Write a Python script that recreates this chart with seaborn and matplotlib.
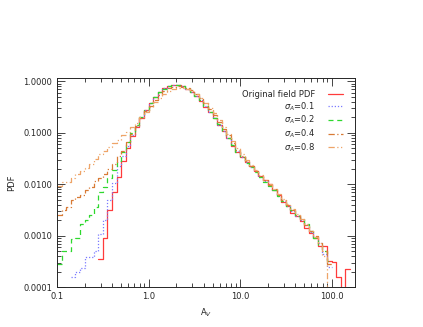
import numpy as np
import pandas as pd
import seaborn as sns
from matplotlib import pyplot as plt
from matplotlib.ticker import FixedLocator, LogLocator, NullFormatter

sns.set_style("ticks")
plt.rcParams["font.family"] = ["DejaVu Sans"]

# log10(A_V) bin left edges, 0.05 dex wide
log_edges = np.round(np.arange(-1.0, 2.30, 0.05), 2)

nan = np.nan
# log10(PDF) per bin
original = [nan, nan, nan, nan, nan, nan, nan, nan, nan, -3.45,
            -3.05, -2.50, -2.15, -1.85, -1.55, -1.30, -1.07, -0.88, -0.72, -0.55,
            -0.42, -0.30, -0.20, -0.13, -0.09, -0.065, -0.065, -0.09, -0.14, -0.21,
            -0.29, -0.38, -0.49, -0.60, -0.72, -0.85, -0.97, -1.10, -1.25, -1.37,
            -1.47, -1.56, -1.65, -1.74, -1.84, -1.92, -2.00, -2.12, -2.20, -2.35,
            -2.42, -2.55, -2.62, -2.72, -2.85, -2.95, -3.05, -3.20, -3.20, -3.50,
            -3.52, -3.80, -5.00, -3.65, nan, nan]
sigma01 = [nan, nan, nan, -3.80, -3.70, -3.62, -3.42, -3.42, -3.29, -2.97,
           -2.70, -2.30, -1.98, -1.65, -1.45, -1.25, -1.05, -0.86, -0.70, -0.55,
           -0.42, -0.30, -0.20, -0.13, -0.09, -0.065, -0.065, -0.09, -0.14, -0.20,
           -0.28, -0.37, -0.48, -0.60, -0.72, -0.84, -0.97, -1.09, -1.24, -1.36,
           -1.47, -1.57, -1.66, -1.75, -1.85, -1.93, -2.02, -2.11, -2.22, -2.32,
           -2.43, -2.52, -2.62, -2.70, -2.80, -2.92, -3.02, -3.15, -3.35, -3.60,
           nan, nan, nan, nan, nan, nan]
sigma02 = [-3.55, -3.30, -3.30, -3.07, -3.05, -2.77, -2.70, -2.60, -2.45, -2.15,
           -2.05, -1.87, -1.72, -1.55, -1.38, -1.18, -1.00, -0.85, -0.70, -0.55,
           -0.42, -0.30, -0.21, -0.14, -0.09, -0.07, -0.07, -0.09, -0.13, -0.20,
           -0.28, -0.37, -0.48, -0.59, -0.71, -0.83, -0.96, -1.10, -1.23, -1.37,
           -1.46, -1.58, -1.67, -1.76, -1.86, -1.95, -2.03, -2.12, -2.23, -2.33,
           -2.42, -2.50, -2.62, -2.68, -2.78, -2.90, -3.05, -3.18, -3.30, -3.50,
           nan, nan, nan, nan, nan, nan]
sigma04 = [-2.60, -2.50, -2.45, -2.30, -2.25, -2.20, -2.12, -2.05, -1.93, -1.88,
           -1.80, -1.70, -1.60, -1.45, -1.35, -1.18, -1.02, -0.86, -0.72, -0.58,
           -0.47, -0.36, -0.27, -0.19, -0.13, -0.10, -0.09, -0.10, -0.12, -0.17,
           -0.24, -0.32, -0.42, -0.53, -0.65, -0.78, -0.92, -1.05, -1.20, -1.34,
           -1.45, -1.55, -1.65, -1.74, -1.83, -1.92, -2.01, -2.10, -2.20, -2.30,
           -2.40, -2.50, -2.60, -2.68, -2.80, -2.90, -3.00, -3.15, -3.30, -3.55,
           nan, nan, nan, nan, nan, nan]
sigma08 = [-2.03, -1.96, -1.95, -1.88, -1.80, -1.74, -1.68, -1.60, -1.50, -1.42,
           -1.35, -1.27, -1.20, -1.13, -1.05, -0.98, -0.88, -0.80, -0.70, -0.60,
           -0.50, -0.40, -0.32, -0.25, -0.19, -0.15, -0.13, -0.13, -0.15, -0.19,
           -0.25, -0.32, -0.41, -0.51, -0.62, -0.75, -0.88, -1.02, -1.16, -1.30,
           -1.42, -1.53, -1.63, -1.72, -1.82, -1.91, -2.00, -2.10, -2.19, -2.28,
           -2.38, -2.48, -2.58, -2.68, -2.78, -2.90, -3.02, -3.15, -3.40, -5.00,
           nan, nan, nan, nan, nan, nan]

labels = ["Original field PDF", r"$\sigma_A$=0.1", r"$\sigma_A$=0.2",
          r"$\sigma_A$=0.4", r"$\sigma_A$=0.8"]
series = [original, sigma01, sigma02, sigma04, sigma08]
colors = ["#ff3b3b", "#7b7bff", "#2ed82e", "#d87a35", "#eea468"]
dashes = ["", (1, 1.5), (4, 3), (5, 2, 1, 2), (5, 2, 1, 2, 1, 2)]

rows = []
for lab, vals in zip(labels, series):
    vals = np.array(vals, dtype=float)
    ok = np.where(~np.isnan(vals))[0]
    for k in ok:
        rows.append((lab, 10 ** log_edges[k], 10 ** vals[k]))
    # closing edge so the last step is drawn
    k = ok[-1]
    rows.append((lab, 10 ** (log_edges[k] + 0.05), 10 ** vals[k]))
df = pd.DataFrame(rows, columns=["series", "A", "pdf"])

fig = plt.figure(figsize=(4.23, 3.27), dpi=100)
ax = fig.add_axes([0.135, 0.122, 0.704, 0.639])
sns.lineplot(data=df, x="A", y="pdf", hue="series", style="series",
             hue_order=labels, style_order=labels,
             palette=dict(zip(labels, colors)), dashes=dict(zip(labels, dashes)),
             estimator=None, sort=False, drawstyle="steps-post", lw=0.9, ax=ax)

ax.set_xscale("log")
ax.set_yscale("log")
ax.set_xlim(0.1, 180)
ax.set_ylim(1e-4, 1.16)

ax.xaxis.set_major_locator(FixedLocator([0.1, 1, 10, 100]))
ax.set_xticklabels(["0.1", "1.0", "10.0", "100.0"])
ax.xaxis.set_minor_locator(LogLocator(base=10, subs=np.arange(2, 10)))
ax.xaxis.set_minor_formatter(NullFormatter())
ax.yaxis.set_major_locator(FixedLocator([1e-4, 1e-3, 1e-2, 1e-1, 1]))
ax.set_yticklabels(["0.0001", "0.0010", "0.0100", "0.1000", "1.0000"])
ax.yaxis.set_minor_locator(LogLocator(base=10, subs=np.arange(2, 10)))
ax.yaxis.set_minor_formatter(NullFormatter())
ax.tick_params(which="both", direction="in", top=True, right=True,
               labelsize=6, width=0.6)
ax.tick_params(which="major", length=6)
ax.tick_params(which="minor", length=3)
for s in ax.spines.values():
    s.set_linewidth(0.7)

ax.set_xlabel("A$_V$", fontsize=6, labelpad=4)
ax.set_ylabel("PDF", fontsize=6, labelpad=5)

ax.legend(loc="upper right", frameon=False, markerfirst=False, fontsize=6,
          handlelength=1.8, handletextpad=1.6, labelspacing=0.15,
          borderaxespad=1.0)

fig.savefig("out.png", dpi=100)
